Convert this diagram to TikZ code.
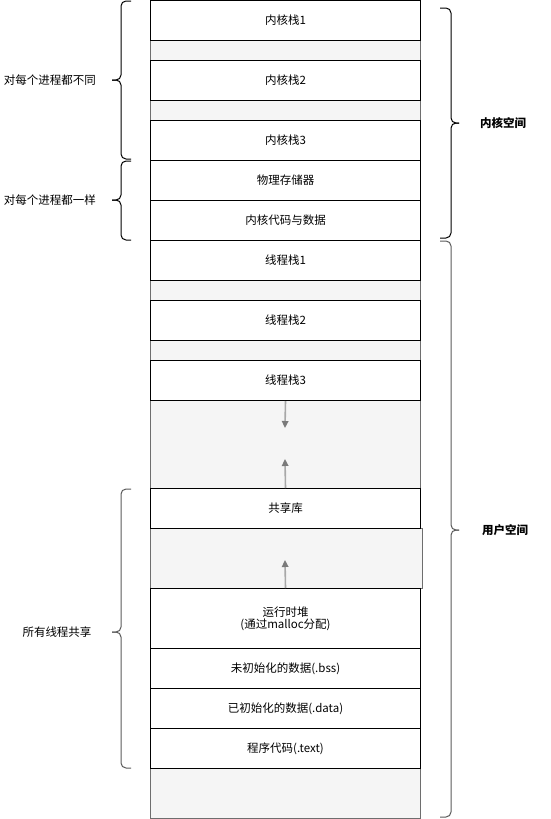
\documentclass[tikz,border=0pt]{standalone}
\usepackage{fontspec}
\setmainfont{Noto Sans CJK SC}
\usetikzlibrary{arrows.meta}
\definecolor{gapfill}{HTML}{F5F5F5}
\definecolor{gapdraw}{HTML}{6E6E6E}
\definecolor{arrshaft}{HTML}{A8A8A8}
\definecolor{arrtip}{HTML}{7A7A7A}
\definecolor{bracegray}{HTML}{5A5A5A}
\begin{document}
\begin{tikzpicture}[x=1pt,y=-1pt,
  font=\fontsize{11.5}{14}\selectfont,
  seg/.style={draw=black, fill=white, line width=1pt, minimum width=270pt, minimum height=40pt, inner sep=0pt, anchor=north west, align=center},
  gap/.style={draw=gapdraw, fill=gapfill, line width=1pt, minimum width=270pt, inner sep=0pt, anchor=north west},
  growarrow/.style={draw=arrshaft, line width=1.6pt, -{Triangle[length=7pt,width=6.5pt,fill=arrtip,color=arrtip]}},
  lbrace/.style={draw=black, line width=1pt, rounded corners=5pt},
  lbl/.style={inner sep=0pt, anchor=center},
  bold/.style={inner sep=0pt, anchor=center, font=\fontsize{11.5}{14}\selectfont\bfseries}
]
\useasboundingbox (0,0) rectangle (551,819);
% gaps
\node[gap, minimum height=20pt] (g1) at (150,40) {};
\node[gap, minimum height=20pt] (g2) at (150,100) {};
\node[gap, minimum height=20pt] (g3) at (150,280) {};
\node[gap, minimum height=20pt] (g4) at (150,340) {};
\node[gap, minimum height=88pt] (g5) at (150,400) {};
\node[gap, minimum height=60pt, minimum width=272pt] (g6) at (150,528) {};
\node[gap, minimum height=50pt] (g7) at (150,768) {};
% segments
\node[seg] (k1) at (150,0) {内核栈1};
\node[seg] (k2) at (150,60) {内核栈2};
\node[seg] (k3) at (150,120) {内核栈3};
\node[seg] (pm) at (150,160) {物理存储器};
\node[seg] (kc) at (150,200) {内核代码与数据};
\node[seg] (t1) at (150,240) {线程栈1};
\node[seg] (t2) at (150,300) {线程栈2};
\node[seg] (t3) at (150,360) {线程栈3};
\node[seg] (sl) at (150,488) {共享库};
\node[seg, minimum height=60pt] (hp) at (150,588) {运行时堆\\[-2pt](通过malloc分配)};
\node[seg] (bss) at (150,648) {未初始化的数据(.bss)};
\node[seg] (dat) at (150,688) {已初始化的数据(.data)};
\node[seg] (txt) at (150,728) {程序代码(.text)};
% arrows
\coordinate (a1) at (285,428);
\coordinate (a2) at (285,459);
\coordinate (a3) at (285,560);
\draw[growarrow] (t3.south) -- (a1);
\draw[growarrow] (sl.north) -- (a2);
\draw[growarrow] (hp.north) -- (a3);
% left braces
\coordinate (lb1t) at (131,1); \coordinate (lb1b) at (131,159); \coordinate (lb1m) at (112,80);
\draw[lbrace] (lb1t) -- (121,1) -- (121,80) -- (lb1m);
\draw[lbrace] (lb1b) -- (121,159) -- (121,80) -- (lb1m);
\coordinate (lb2t) at (131,161); \coordinate (lb2b) at (131,240); \coordinate (lb2m) at (112,200);
\draw[lbrace] (lb2t) -- (121,161) -- (121,200) -- (lb2m);
\draw[lbrace] (lb2b) -- (121,240) -- (121,200) -- (lb2m);
\coordinate (lb3t) at (131,489); \coordinate (lb3b) at (131,768); \coordinate (lb3m) at (112,632);
\draw[lbrace, draw=bracegray] (lb3t) -- (121,489) -- (121,632) -- (lb3m);
\draw[lbrace, draw=bracegray] (lb3b) -- (121,768) -- (121,632) -- (lb3m);
% right braces
\coordinate (rb1t) at (440,8); \coordinate (rb1b) at (440,238); \coordinate (rb1m) at (459,123);
\draw[lbrace] (rb1t) -- (451,8) -- (451,123) -- (rb1m);
\draw[lbrace] (rb1b) -- (451,238) -- (451,123) -- (rb1m);
\coordinate (rb2t) at (440,241); \coordinate (rb2b) at (440,817); \coordinate (rb2m) at (459,530);
\draw[lbrace, draw=bracegray] (rb2t) -- (451,241) -- (451,530) -- (rb2m);
\draw[lbrace, draw=bracegray] (rb2b) -- (451,817) -- (451,530) -- (rb2m);
% labels
\node[lbl] (L1) at (50,80) {对每个进程都不同};
\node[lbl] (L2) at (50,200) {对每个进程都一样};
\node[lbl] (L3) at (57,632) {所有线程共享};
\node[bold] (R1) at (503,123) {内核空间};
\node[bold] (R2) at (505,530) {用户空间};
\end{tikzpicture}
\end{document}
